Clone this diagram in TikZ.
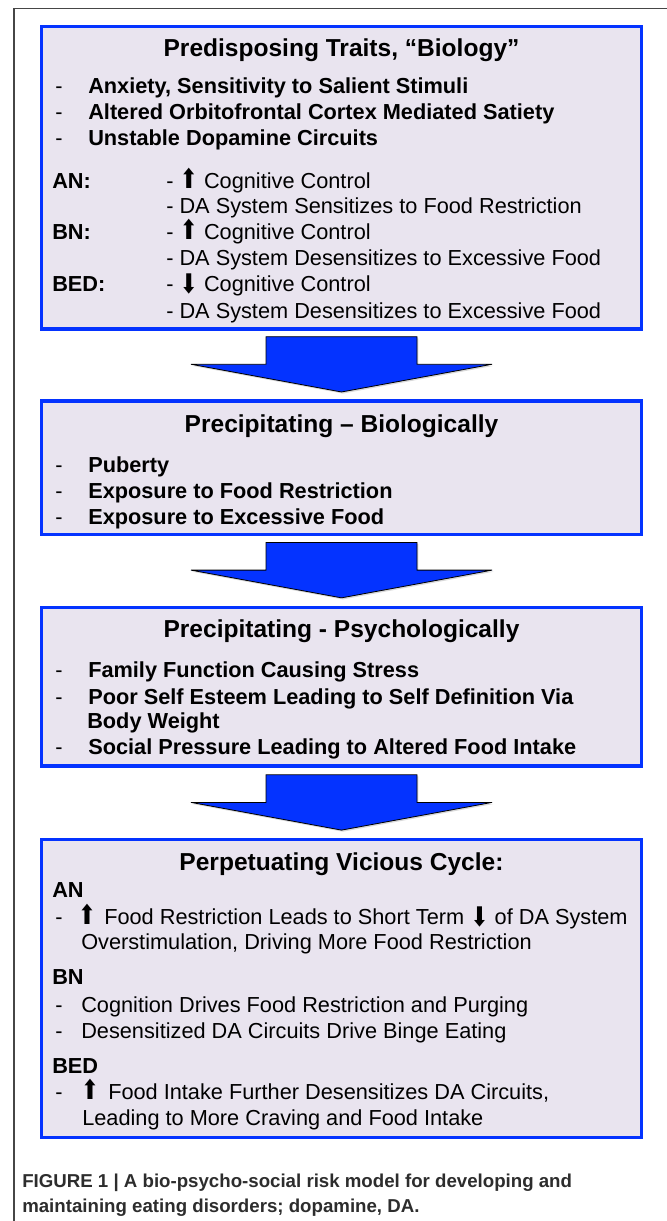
\documentclass[tikz,border=0pt]{standalone}
\usepackage{fontspec}
\usepackage{graphicx}
\setmainfont{Liberation Sans}
\newfontfamily\arrowfont{DejaVu Sans}
\usetikzlibrary{calc,shadows}
\definecolor{boxblue}{RGB}{4,51,255}
\definecolor{boxfill}{RGB}{233,228,239}
\definecolor{framegray}{RGB}{70,70,70}
\definecolor{capgray}{RGB}{45,45,45}
\newcommand{\uparr}{\scalebox{1.1}[1.35]{\arrowfont\fontsize{15}{19}\selectfont ⬆}}
\newcommand{\dnarr}{\raisebox{-1.2pt}{\scalebox{1.1}[1.35]{\arrowfont\fontsize{15}{19}\selectfont ⬇}}}
\newcommand{\flowarrow}[2]{%
  \coordinate (#1) at #2;
  \draw[bigarrow] ($(#1)+(-75.5,0)$) -- ($(#1)+(75.5,0)$) -- ($(#1)+(75.5,27.6)$)
    -- ($(#1)+(150.5,27.6)$) -- ($(#1)+(0,55.3)$) -- ($(#1)+(-150.5,27.6)$)
    -- ($(#1)+(-75.5,27.6)$) -- cycle;}
\begin{document}
\begin{tikzpicture}[x=0.75pt,y=-0.75pt,
  box/.style={draw=boxblue, line width=2.5pt, fill=boxfill, inner sep=0pt,
    minimum width=449.7pt,
    drop shadow={opacity=0.2, shadow xshift=1pt, shadow yshift=-1pt}},
  bigarrow/.style={fill=boxblue, draw=black, line width=0.6pt, line join=miter,
    drop shadow={opacity=0.3, shadow xshift=1pt, shadow yshift=-1.2pt}},
  ttl/.style={inner sep=0pt, anchor=base, font=\fontsize{18.4}{22}\selectfont\bfseries},
  bt/.style={inner sep=0pt, anchor=base west, font=\fontsize{16.3}{19}\selectfont\bfseries},
  rt/.style={inner sep=0pt, anchor=base west, font=\fontsize{16.3}{19}\selectfont},
  ar/.style={inner sep=0pt, anchor=base, font=\fontsize{16.3}{19}\selectfont},
  captext/.style={inner sep=0pt, anchor=base west, text=capgray,
    font=\fontsize{14}{17}\selectfont\bfseries},
  framelines/.style={draw=framegray, line width=0.8pt}]
\useasboundingbox[fill=white] (0,0) rectangle (667,1221);
\draw[framelines] (14,1221) -- (14,8.5) -- (667,8.5);

% boxes
\node[box, minimum height=227.1pt] (b1) at (341.5,177.6) {};
\node[box, minimum height=100pt]   (b2) at (341.5,467.6) {};
\node[box, minimum height=118.7pt] (b3) at (341.5,686.8) {};
\node[box, minimum height=223.2pt] (b4) at (341.5,988.5) {};

% arrows between boxes
\flowarrow{a1}{($(b1.south)+(0,6)$)}
\flowarrow{a2}{($(b2.south)+(0,6.6)$)}
\flowarrow{a3}{($(b3.south)+(0,7.2)$)}

% box 1
\node[ttl] (t1) at (341.5,56.5) {Predisposing Traits, “Biology”};
\node[rt] (d11) at (55,93.5) {-};
\node[bt] (p11) at (88,93.5) {Anxiety, Sensitivity to Salient Stimuli};
\node[rt] (d12) at (55,119.8) {-};
\node[bt] (p12) at (88,119.8) {Altered Orbitofrontal Cortex Mediated Satiety};
\node[rt] (d13) at (55,145) {-};
\node[bt] (p13) at (88,145) {Unstable Dopamine Circuits};
\node[bt] (an1) at (52,188) {AN:};
\node[rt] (an1a) at (166,188) {- \uparr{} Cognitive Control};
\node[rt] (an1b) at (166,213.5) {- DA System Sensitizes to Food Restriction};
\node[bt] (bn1) at (52,239) {BN:};
\node[rt] (bn1a) at (166,239) {- \uparr{} Cognitive Control};
\node[rt] (bn1b) at (166,265.5) {- DA System Desensitizes to Excessive Food};
\node[bt] (bed1) at (52,291.5) {BED:};
\node[rt] (bed1a) at (166,291.5) {- \dnarr{} Cognitive Control};
\node[rt] (bed1b) at (166,318.2) {- DA System Desensitizes to Excessive Food};

% box 2
\node[ttl] (t2) at (341.5,432.8) {Precipitating – Biologically};
\node[rt] (d21) at (55,472) {-};
\node[bt] (p21) at (88,472) {Puberty};
\node[rt] (d22) at (55,498.5) {-};
\node[bt] (p22) at (88,498.5) {Exposure to Food Restriction};
\node[rt] (d23) at (55,524) {-};
\node[bt] (p23) at (88,524) {Exposure to Excessive Food};

% box 3
\node[ttl] (t3) at (341.5,637.8) {Precipitating - Psychologically};
\node[rt] (d31) at (55,677) {-};
\node[bt] (p31) at (88,677) {Family Function Causing Stress};
\node[rt] (d32) at (55,704) {-};
\node[bt] (p32) at (88,704) {Poor Self Esteem Leading to Self Definition Via};
\node[bt] (p32b) at (87,728.5) {Body Weight};
\node[rt] (d33) at (55,754.5) {-};
\node[bt] (p33) at (88,754.5) {Social Pressure Leading to Altered Food Intake};

% box 4
\node[ttl] (t4) at (341.5,870) {Perpetuating Vicious Cycle:};
\node[bt] (an4) at (52,897) {AN};
\node[rt] (d41) at (55,924.5) {-};
\node[ar] (u41) at (87,924.5) {\uparr};
\node[rt] (p41) at (104,924.5) {Food Restriction Leads to Short Term \dnarr{} of DA System};
\node[rt] (p41b) at (81,949) {Overstimulation, Driving More Food Restriction};
\node[bt] (bn4) at (52,984.5) {BN};
\node[rt] (d42) at (55,1012) {-};
\node[rt] (p42) at (81,1012) {Cognition Drives Food Restriction and Purging};
\node[rt] (d43) at (55,1038) {-};
\node[rt] (p43) at (81,1038) {Desensitized DA Circuits Drive Binge Eating};
\node[bt] (bed4) at (52,1073.5) {BED};
\node[rt] (d44) at (55,1099) {-};
\node[ar] (u44) at (90,1099) {\uparr};
\node[rt] (p44) at (108,1099) {Food Intake Further Desensitizes DA Circuits,};
\node[rt] (p44b) at (82,1125.5) {Leading to More Craving and Food Intake};

% caption
\node[captext] (c1) at (22,1187.4) {FIGURE 1 | A bio-psycho-social risk model for developing and};
\node[captext] (c2) at (22,1212.7) {maintaining eating disorders; dopamine, DA.};
\end{tikzpicture}
\end{document}
